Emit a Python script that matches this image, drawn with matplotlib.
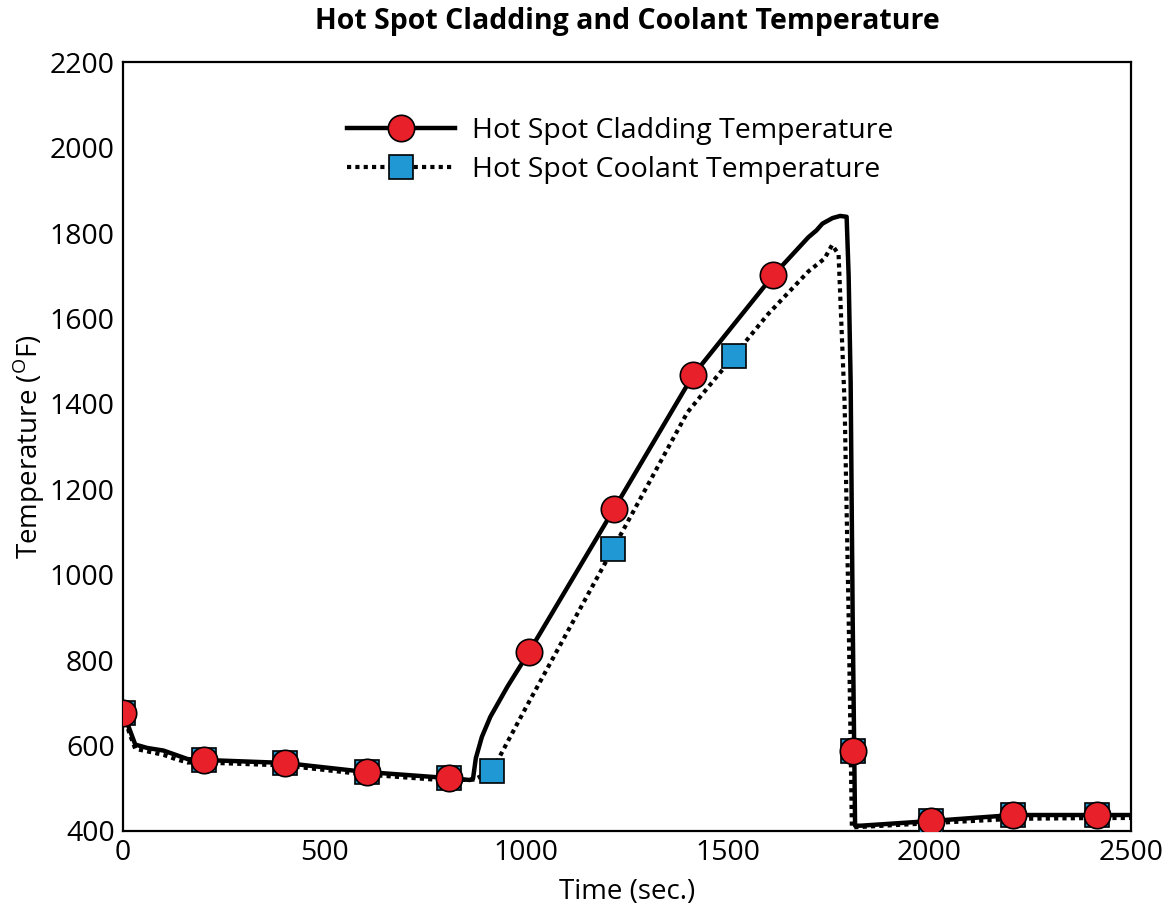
import matplotlib.pyplot as plt
from matplotlib.lines import Line2D

plt.rcParams["font.family"] = ["Open Sans", "DejaVu Sans"]

# cladding temperature curve (sec, F)
clad_t = [0, 15, 30, 60, 100, 130, 160, 200, 400, 600, 800, 860, 868, 875, 890, 911, 953,
          1007, 1218, 1414, 1613, 1700, 1720, 1735, 1760, 1779, 1795, 1800, 1805, 1810, 1816,
          1830, 2005, 2208, 2417, 2500]
clad_T = [676, 640, 602, 594, 588, 578, 568, 566, 559, 538, 524, 519, 522, 570, 620, 667, 737,
          819, 1154, 1467, 1701, 1790, 1806, 1822, 1835, 1840, 1838, 1700, 1450, 900, 412,
          412, 423, 437, 437, 437]

# coolant temperature curve (sec, F)
cool_t = [0, 15, 30, 60, 100, 130, 160, 200, 400, 600, 800, 870, 915, 1000, 1215, 1400,
          1515, 1600, 1700, 1740, 1759, 1775, 1790, 1800, 1808, 2005, 2208, 2417, 2500]
cool_T = [676, 630, 592, 586, 578, 568, 560, 560, 553, 532, 518, 520, 540, 690, 1060, 1380,
          1512, 1610, 1710, 1740, 1772, 1750, 1400, 900, 408, 418, 428, 430, 430]

# marker positions
clad_mt = [0, 201, 402, 605, 809, 1007, 1218, 1414, 1613, 1811, 2005, 2208, 2417]
clad_mT = [676, 566, 559, 538, 524, 819, 1154, 1467, 1701, 587, 423, 437, 437]
cool_mt = [0, 201, 402, 605, 809, 915, 1215, 1515, 1811, 2005, 2208, 2417]
cool_mT = [676, 566, 559, 538, 524, 540, 1060, 1512, 587, 423, 437, 437]

red = "#e8202a"
blue = "#1f98d4"

fig, ax = plt.subplots(figsize=(11.73, 9.15), dpi=100)
fig.subplots_adjust(left=0.105, right=0.964, top=0.932, bottom=0.092)

ax.plot(cool_t, cool_T, color="black", linewidth=3, linestyle=(0, (1, 1)), zorder=2)
ax.plot(clad_t, clad_T, color="black", linewidth=3.2, solid_joinstyle="round", zorder=3)
ax.plot(cool_mt, cool_mT, linestyle="none", marker="s", markersize=17,
        markerfacecolor=blue, markeredgecolor="black", markeredgewidth=1.2, zorder=4)
ax.plot(clad_mt, clad_mT, linestyle="none", marker="o", markersize=19,
        markerfacecolor=red, markeredgecolor="black", markeredgewidth=1.2, zorder=5)

ax.set_xlim(0, 2500)
ax.set_ylim(400, 2200)
ax.set_xticks([0, 500, 1000, 1500, 2000, 2500])
ax.set_yticks(range(400, 2201, 200))
ax.tick_params(length=0, labelsize=20.5, pad=6)
for s in ax.spines.values():
    s.set_linewidth(1.6)

ax.set_title("Hot Spot Cladding and Coolant Temperature", fontsize=20.5,
             fontweight="bold", pad=24)
ax.set_xlabel("Time (sec.)", fontsize=20, labelpad=8)
ax.set_ylabel("Temperature ($^{\\mathregular{O}}$F)", fontsize=20, labelpad=2)

handles = [
    Line2D([], [], color="black", linewidth=3.2, marker="o", markersize=19,
           markerfacecolor=red, markeredgecolor="black", markeredgewidth=1.2),
    Line2D([], [], color="black", linewidth=3, linestyle=(0, (1, 1)), marker="s",
           markersize=17, markerfacecolor=blue, markeredgecolor="black",
           markeredgewidth=1.2),
]
ax.legend(handles, ["Hot Spot Cladding Temperature", "Hot Spot Coolant Temperature"],
          loc="upper center", bbox_to_anchor=(0.493, 0.962), frameon=False, fontsize=20.5,
          handlelength=3.8, labelspacing=0.38, handletextpad=0.6)

fig.savefig("out.png", dpi=100)
